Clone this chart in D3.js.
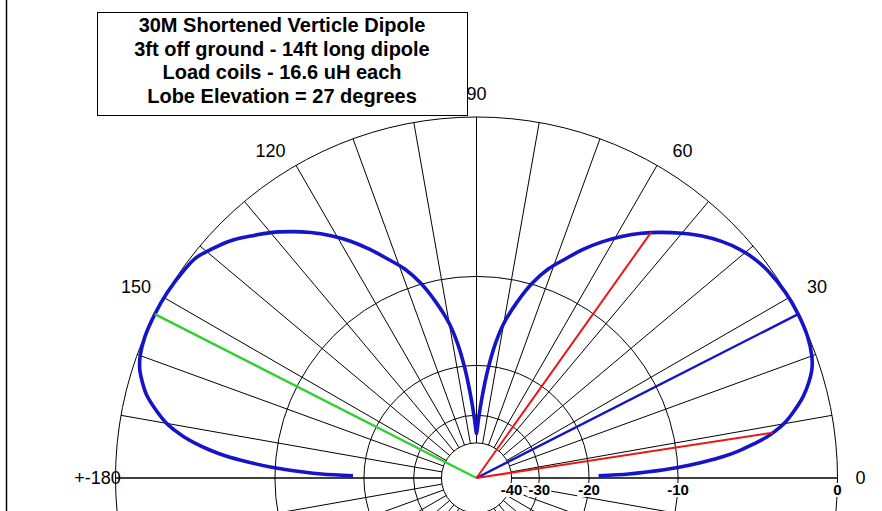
<!DOCTYPE html>
<html><head><meta charset="utf-8">
<script src="https://cdn.jsdelivr.net/npm/d3@7/dist/d3.min.js"></script>
<style>html,body{margin:0;padding:0;background:#fff;overflow:hidden}</style>
</head><body><svg id="chart" width="882" height="511"></svg>
<script>
// ---- data (elevation angle in degrees, gain in dB relative to max) ----
const elevAngles = [1,1.5,2,3,4,5,6,7,8,9,10,12,14,16,18,20,23,27,31,35,38,41,44,47,50,53,56,59,62,65,68,71,74,77,80,82,84,86,88,89,90,
  91,92,94,96,98,100,103,106,109,112,115,118,121,124,127,130,133,136,139,142,145,149,153,157,160,162,164,166,168,170,171,172,173,174,175,176,177,178,178.5,179];
const gainDb = [-18.6,-14.8,-12.9,-10.0,-8.0,-6.4,-5.3,-4.4,-3.6,-3.0,-2.5,-1.8,-1.2,-0.75,-0.4,-0.2,-0.05,0,-0.03,-0.15,-0.32,-0.6,-1.0,-1.5,-2.1,-2.75,-3.45,-4.25,-5.15,-6.15,-7.3,-8.4,-9.9,-11.9,-14.3,-16.8,-20.5,-25.5,-31,-34,-36,
  -34,-31,-25.5,-20.5,-16.8,-14.3,-11.9,-9.9,-8.4,-7.3,-6.15,-5.1,-4.2,-3.4,-2.7,-2.05,-1.5,-0.95,-0.55,-0.2,-0.1,-0.02,0,-0.03,-0.15,-0.33,-0.65,-1.05,-1.65,-2.35,-2.85,-3.45,-4.2,-5.1,-6.2,-7.8,-9.7,-12.6,-14.5,-18.4];
const ringDb = [0,-10,-20,-30,-40];
const ringLabels = ["0","-10","-20","-30","-40"];
const angleTicks = [0,30,60,90,120,150,180];
const angleLabels = ["0","30","60","90","120","150","+-180"];
const spokeStep = 10;
const titleLines = ["30M Shortened Verticle Dipole","3ft off ground - 14ft long dipole","Load coils - 16.6 uH each","Lobe Elevation = 27 degrees"];
const maxLobe = {angle:27, db:0};
const mirrorLobe = {angle:153, db:0};
const halfPower = [{angle:8.7, db:-3.2},{angle:54.6, db:-3.1}];

// ---- layout ----
const W = 882, H = 511, cx = 476.5, cy = 478, R = 361;
const svg = d3.select("#chart");
svg.append("rect").attr("width",W).attr("height",H).attr("fill","#fff");

// ARRL log scale: 2 dB per 0.89 radius factor
const lnScale = d3.scaleLinear().domain([0,-2]).range([Math.log(R), Math.log(R*0.89)]);
const r = db => Math.exp(lnScale(db));
// elevation angle (ccw from +x) -> d3 radial angle (cw from top)
const ang = d3.scaleLinear().domain([0,360]).range([Math.PI/2, Math.PI/2 - 2*Math.PI]);
const px = (a,rad) => cx + rad*Math.sin(ang(a));
const py = (a,rad) => cy - rad*Math.cos(ang(a));

const g = svg.append("g");
// rings
g.selectAll("circle.ring").data(ringDb).join("circle")
  .attr("cx",cx).attr("cy",cy).attr("r",d=>r(d))
  .attr("fill","none").attr("stroke","#000").attr("stroke-width",1);
// spokes
const rIn = r(d3.min(ringDb));
g.selectAll("line.spoke").data(d3.range(0,360,spokeStep)).join("line")
  .attr("x1",d=>px(d,rIn)).attr("y1",d=>py(d,rIn))
  .attr("x2",d=>px(d,R)).attr("y2",d=>py(d,R))
  .attr("stroke","#000").attr("stroke-width",d=>d%180===0?1.3:1);

// pattern
const pts = elevAngles.map((a,i)=>({a, db:gainDb[i]}));
const radial = d3.lineRadial().angle(d=>ang(d.a)).radius(d=>r(d.db)).curve(d3.curveCatmullRom.alpha(0.5));
svg.append("path").attr("transform",`translate(${cx},${cy})`).attr("d",radial(pts))
  .attr("fill","none").attr("stroke","#1414c8").attr("stroke-width",3.6).attr("stroke-linejoin","round");

// marker lines
const ray = (d,color,w) => svg.append("line").attr("x1",cx).attr("y1",cy)
  .attr("x2",px(d.angle,r(d.db))).attr("y2",py(d.angle,r(d.db)))
  .attr("stroke",color).attr("stroke-width",w);
ray(mirrorLobe,"#30d030",2.4);
ray(maxLobe,"#1414c8",2.4);
halfPower.forEach(d=>ray(d,"#e81818",2));

// dB labels on baseline
const dbl = svg.append("g").attr("font-family","Liberation Sans, Arial, sans-serif").attr("font-size",15).attr("font-weight","bold");
ringDb.forEach((d,i)=>{
  const t = dbl.append("text").attr("x",cx + r(d)).attr("y",495).attr("text-anchor","middle").text(ringLabels[i]);
  const bb = t.node().getBBox();
  dbl.insert("rect","text").attr("x",bb.x-1).attr("y",bb.y+2).attr("width",bb.width+2).attr("height",bb.height-3).attr("fill","#fff");
});

// angle labels
const al = svg.append("g").attr("font-family","Liberation Sans, Arial, sans-serif").attr("font-size",18);
angleTicks.forEach((a,i)=>{
  const c = Math.cos(a*Math.PI/180);
  let dx = 0, dy = 0;
  if (a===30||a===150) { dx = Math.sign(c)*8; dy = 1; }
  if (a===60||a===120) { dx = Math.sign(c)*14; dy = 5; }
  if (a===180) dx = 5;
  al.append("text").attr("x",px(a,384)+dx).attr("y",py(a,384)+dy).attr("dy","0.35em").attr("text-anchor","middle").text(angleLabels[i]);
});

// title box
svg.append("rect").attr("x",97.5).attr("y",12.5).attr("width",370).attr("height",103)
  .attr("fill","#fff").attr("stroke","#000").attr("stroke-width",1);
const tl = svg.append("g").attr("font-family","Liberation Sans, Arial, sans-serif").attr("font-size",20).attr("font-weight","bold");
titleLines.forEach((s,i)=>tl.append("text").attr("x",282).attr("y",32+i*23.5).attr("text-anchor","middle").text(s));

// left frame
svg.append("line").attr("x1",6.5).attr("x2",6.5).attr("y1",0).attr("y2",H).attr("stroke","#000").attr("stroke-width",1.5);
</script></body></html>
